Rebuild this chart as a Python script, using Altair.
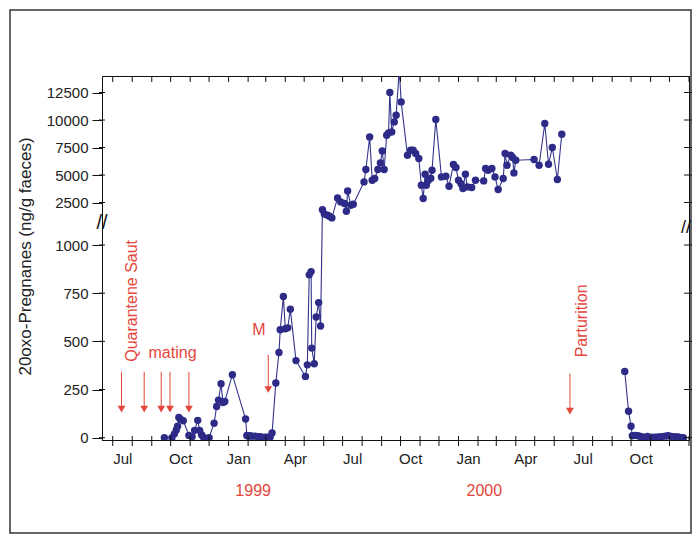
import altair as alt
import pandas as pd

# ---- data ----
seg1_dates = [
    "1998-09-21", "1998-10-03", "1998-10-07", "1998-10-10", "1998-10-12", "1998-10-14",
    "1998-10-17", "1998-10-21", "1998-10-30", "1998-11-04", "1998-11-08", "1998-11-13",
    "1998-11-16", "1998-11-19", "1998-11-22", "1998-12-01", "1998-12-09", "1998-12-13",
    "1998-12-16", "1998-12-20", "1998-12-23", "1998-12-26", "1999-01-07", "1999-01-28",
    "1999-01-30", "1999-02-01", "1999-02-04", "1999-02-07", "1999-02-12", "1999-02-17",
    "1999-02-21", "1999-02-28", "1999-03-04", "1999-03-08", "1999-03-11", "1999-03-17",
    "1999-03-22", "1999-03-24", "1999-03-29", "1999-04-01", "1999-04-05", "1999-04-09",
    "1999-04-18", "1999-05-03", "1999-05-06", "1999-05-09", "1999-05-12", "1999-05-13",
    "1999-05-17", "1999-05-20", "1999-05-24", "1999-05-27",
    "1999-05-30", "1999-06-02", "1999-06-07", "1999-06-10", "1999-06-14", "1999-06-23",
    "1999-06-28", "1999-07-04", "1999-07-07", "1999-07-09", "1999-07-14", "1999-07-18",
    "1999-08-04", "1999-08-07", "1999-08-13", "1999-08-17", "1999-08-21", "1999-08-26",
    "1999-08-30", "1999-09-02", "1999-09-05", "1999-09-09", "1999-09-12", "1999-09-14",
    "1999-09-17", "1999-09-21", "1999-09-24", "1999-09-29", "1999-10-02", "1999-10-12",
    "1999-10-17", "1999-10-21", "1999-10-25", "1999-10-30", "1999-11-03", "1999-11-06",
    "1999-11-09", "1999-11-11", "1999-11-14", "1999-11-18", "1999-11-20", "1999-11-26",
    "1999-12-05", "1999-12-12", "1999-12-17", "1999-12-24", "1999-12-28", "2000-01-01",
    "2000-01-05", "2000-01-08", "2000-01-12", "2000-01-15", "2000-01-22", "2000-01-28",
    "2000-02-10", "2000-02-13", "2000-02-17", "2000-02-23", "2000-02-28", "2000-03-04",
    "2000-03-12", "2000-03-15", "2000-03-18", "2000-03-24", "2000-03-27", "2000-03-29",
    "2000-04-01", "2000-04-30", "2000-05-08", "2000-05-17", "2000-05-23", "2000-05-29",
    "2000-06-06", "2000-06-13",
]
seg1_values = [
    0, 0, 20, 40, 60, 105,
    95, 88, 12, 5, 38, 90,
    38, 15, 3, 0, 75, 162,
    195, 280, 183, 188, 327, 97,
    12, 8, 10, 8, 8, 5,
    5, 3, 2, 3, 24, 284,
    442, 560, 733, 565, 570, 667,
    400, 318, 378, 845, 862, 465,
    384, 626, 701, 580,
    1850, 1450, 1350, 1250, 1100, 2918,
    2555, 2409, 1700, 3555, 2255, 2345,
    4373, 5500, 8464, 4527, 4682, 5500,
    6100, 7190, 5500, 8618, 8827, 12500,
    8918, 9827, 10436, 14600, 11645, 6800,
    7255, 7255, 6955, 6500, 4073, 2864,
    5073, 4073, 4500, 4709, 5436, 10045,
    4827, 4890, 3982, 5955, 5682, 4527,
    4200, 3773, 5073, 3918, 3864, 4527,
    4464, 5591, 5436, 5591, 4827, 3682,
    4682, 6955, 5891, 6800, 6591, 5191,
    6345, 6409, 5891, 9682, 5982, 7500,
    4591, 8709,
]
seg2_dates = [
    "2000-09-21", "2000-09-27", "2000-10-01", "2000-10-03", "2000-10-08", "2000-10-12",
    "2000-10-16", "2000-10-21", "2000-10-27", "2000-10-29", "2000-11-03", "2000-11-08",
    "2000-11-13", "2000-11-18", "2000-11-24", "2000-11-29", "2000-12-04", "2000-12-10",
    "2000-12-15", "2000-12-19", "2000-12-23",
]
seg2_values = [344, 137, 59, 10, 12, 10, 6, 3, 6, 0, 2, 3, 4, 5, 8, 10, 7, 5, 4, 0, 0]

y_tick_values = [0, 250, 500, 750, 1000, 2500, 5000, 7500, 10000, 12500]

month_starts = [f"{1998 + (6 + i) // 12}-{(6 + i) % 12 + 1:02d}-01" for i in range(31)]
label_months = [(1998, 7), (1998, 10), (1999, 1), (1999, 4), (1999, 7), (1999, 10),
                (2000, 1), (2000, 4), (2000, 7), (2000, 10)]

arrow_dates = ["1998-07-15", "1998-08-20", "1998-09-16", "1998-09-30", "1998-10-30",
               "1999-03-05", "2000-06-26"]
arrow_tops = [342, 342, 342, 342, 342, 430, 332]
arrow_heads = [148, 148, 148, 148, 148, 250, 138]

vert_labels = ["Quarantene Saut", "Parturition"]
vert_dates = ["1998-08-01", "2000-07-15"]
vert_values = [710, 606]

horiz_labels = ["mating", "M"]
horiz_dates = ["1998-10-04", "1999-02-18"]
horiz_values = [440, 560]

year_labels = ["1999", "2000"]
year_dates = ["1999-02-09", "2000-02-11"]

# ---- layout constants ----
W, H = 587, 364
RED = "#e3463b"
NAVY = "#2d2b87"
FONT = "Liberation Sans"

df = pd.DataFrame({
    "date": seg1_dates + seg2_dates,
    "value": seg1_values + seg2_values,
    "segment": ["a"] * len(seg1_dates) + ["b"] * len(seg2_dates),
})
month_df = pd.DataFrame({"date": month_starts})

xscale = alt.Scale(type="utc", domain=[alt.DateTime(year=1998, month=6, date=14, utc=True),
                                       alt.DateTime(year=2001, month=1, date=1, utc=True)])
yscale = alt.Scale(domain=[-12, 1000, 1001, 14000], range=[364, 169, 143, 0],
                   nice=False, zero=False)

xaxis = alt.Axis(
    values=[alt.DateTime(year=y, month=m, date=1, utc=True) for y, m in label_months],
    format="%b", labelOffset=9.6, ticks=False, labelPadding=11, labelFontSize=15,
    labelFont=FONT, labelColor="#222", domainColor="#111", title=None, grid=False,
    labelOverlap=False, labelFlush=False,
)
yaxis = alt.Axis(
    values=y_tick_values, format="d", tickSize=10, labelPadding=4, labelFontSize=15,
    labelFont=FONT, labelColor="#222", domainColor="#111", tickColor="#111", grid=False,
    title="20oxo-Pregnanes (ng/g faeces)", titleFont=FONT, titleFontSize=17,
    titleFontWeight="normal", titleColor="#222", titleX=-77, titleY=180, titleAngle=270,
    titleAlign="center", titleBaseline="middle", labelOverlap=False,
)

X = alt.X("date:T", scale=xscale, axis=xaxis)
Y = alt.Y("value:Q", scale=yscale, axis=yaxis)

line = alt.Chart(df).mark_line(color="#34338c", strokeWidth=1.1, clip=True).encode(
    x=X, y=Y, detail="segment:N")
pts = alt.Chart(df).mark_circle(color=NAVY, size=55, opacity=1, clip=True).encode(
    x=X, y=Y, detail="segment:N")

# arrows
arrow_df = pd.DataFrame({"date": arrow_dates, "value": arrow_tops, "head": arrow_heads})
arrow_lines = alt.Chart(arrow_df).mark_rule(color=RED, strokeWidth=1).encode(
    x="date:T", y="value:Q", y2="head:Q")
arrow_heads_mk = alt.Chart(arrow_df).mark_point(
    shape="triangle-down", filled=True, color=RED, size=60, opacity=1).encode(
    x="date:T", y=alt.Y("head:Q"))

vert_df = pd.DataFrame({"date": vert_dates, "value": vert_values, "label": vert_labels})
vert_text = alt.Chart(vert_df).mark_text(
    angle=270, color=RED, font=FONT, fontSize=16, align="center", baseline="middle").encode(
    x="date:T", y="value:Q", text="label:N")
horiz_df = pd.DataFrame({"date": horiz_dates, "value": horiz_values, "label": horiz_labels})
horiz_text = alt.Chart(horiz_df).mark_text(
    color=RED, font=FONT, fontSize=16, align="center", baseline="middle").encode(
    x="date:T", y="value:Q", text="label:N")

year_df = pd.DataFrame({"date": year_dates, "label": year_labels})
year_text = alt.Chart(year_df).mark_text(
    color=RED, font=FONT, fontSize=16, align="center", baseline="middle").encode(
    x="date:T", y=alt.value(415), text="label:N")

# decorations: month ticks (crossing at bottom, inward at top), y ticks, breaks, frame
bottom_ticks = alt.Chart(month_df).mark_tick(
    color="#111", thickness=1, size=10, orient="vertical", opacity=1).encode(
    x="date:T", y=alt.value(H + 1))
top_ticks = alt.Chart(month_df).mark_tick(
    color="#111", thickness=1, size=6, orient="vertical", opacity=1).encode(
    x="date:T", y=alt.value(3))

ytick_df = pd.DataFrame({"value": y_tick_values})
right_ticks = alt.Chart(ytick_df).mark_tick(
    color="#111", thickness=1, size=10, orient="horizontal", opacity=1).encode(
    y="value:Q", x=alt.value(W))
left_ticks = alt.Chart(ytick_df).mark_tick(
    color="#111", thickness=1, size=6, orient="horizontal", opacity=1).encode(
    y="value:Q", x=alt.value(0))

one = pd.DataFrame({"k": [0]})
break_left = alt.Chart(one).mark_text(
    text="//", fontSize=20, font=FONT, color="#111", align="center", baseline="middle").encode(
    x=alt.value(0), y=alt.value(147))
break_right = alt.Chart(one).mark_text(
    text="//", fontSize=18, font=FONT, color="#111", align="center", baseline="middle").encode(
    x=alt.value(W - 3), y=alt.value(152))
frame = alt.Chart(one).mark_rect(fill="transparent", stroke="#333", strokeWidth=1.5).encode(
    x=alt.value(-92), x2=alt.value(589), y=alt.value(-66), y2=alt.value(457))

chart = alt.layer(
    frame, line, pts, arrow_lines, arrow_heads_mk, vert_text, horiz_text, year_text,
    bottom_ticks, top_ticks, right_ticks, left_ticks, break_left, break_right,
).properties(
    width=W, height=H,
    padding={"left": 94, "top": 68, "right": 3, "bottom": 94},
    autosize=alt.AutoSizeParams(type="none"),
    background="white",
).configure_view(stroke="#111", strokeWidth=1)

chart.save("out.html", embed_options={"renderer": "svg", "actions": False})
